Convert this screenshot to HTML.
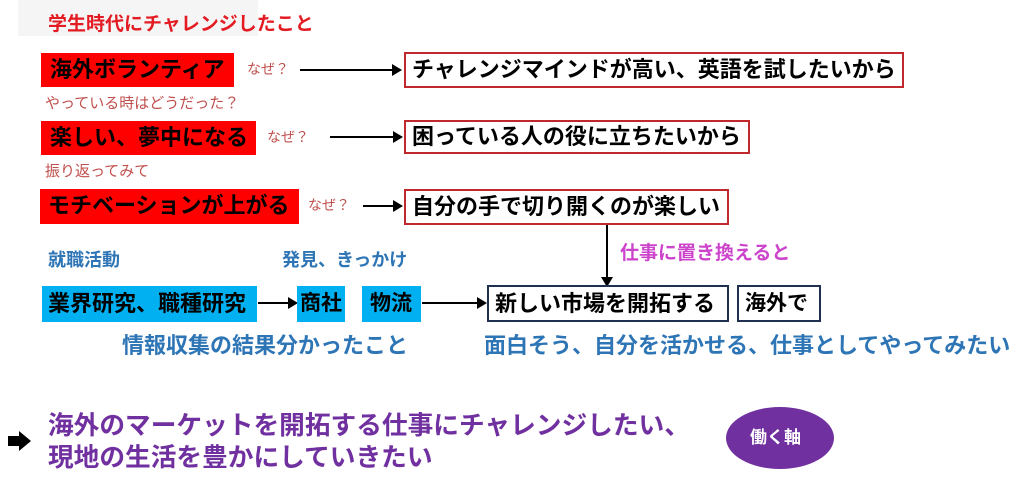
<!DOCTYPE html>
<html><head><meta charset="utf-8"><style>
body{margin:0;width:1024px;height:482px;background:#fff;position:relative;overflow:hidden;font-family:"Liberation Sans","Noto Sans CJK JP",sans-serif;}
.a{position:absolute;white-space:nowrap;line-height:1;font-weight:bold;}
.b{position:absolute;box-sizing:border-box;}
.r{background:#f00;}
.rb{border:2px solid #c0282d;background:#fff;}
.cy{background:#00b0f0;}
.nb{border:2px solid #1f3050;background:#fff;}
.q{font-weight:normal;color:#c0504d;font-size:14px;}
.h{position:absolute;height:2px;background:#000;}
.h:after{content:"";position:absolute;right:-2px;top:-5px;border-left:10px solid #000;border-top:6px solid transparent;border-bottom:6px solid transparent;}
</style></head><body>
<div class="b" style="left:18px;top:0;width:240px;height:36px;background:#f5f5f5"></div>
<div class="a" style="left:48px;top:15px;font-size:19px;color:#e31b23">学生時代にチャレンジしたこと</div>

<div class="b r" style="left:41px;top:53px;width:193px;height:34px"></div>
<div class="a" style="left:50px;top:59px;font-size:22px">海外ボランティア</div>
<div class="a q" style="left:247px;top:62px">なぜ？</div>
<div class="h" style="left:300px;top:69px;width:100px"></div>
<div class="b rb" style="left:404px;top:52px;width:500px;height:36px"></div>
<div class="a" style="left:412px;top:59px;font-size:22px">チャレンジマインドが高い、英語を試したいから</div>

<div class="a q" style="left:45px;top:96px;font-size:15px">やっている時はどうだった？</div>

<div class="b r" style="left:41px;top:121px;width:215px;height:34px"></div>
<div class="a" style="left:50px;top:127px;font-size:22px">楽しい、夢中になる</div>
<div class="a q" style="left:267px;top:130px">なぜ？</div>
<div class="h" style="left:330px;top:136px;width:71px"></div>
<div class="b rb" style="left:404px;top:120px;width:346px;height:34px"></div>
<div class="a" style="left:412px;top:126px;font-size:22px">困っている人の役に立ちたいから</div>

<div class="a q" style="left:45px;top:164px;font-size:15px">振り返ってみて</div>

<div class="b r" style="left:40px;top:189px;width:259px;height:35px"></div>
<div class="a" style="left:48px;top:195px;font-size:22px">モチベーションが上がる</div>
<div class="a q" style="left:308px;top:198px">なぜ？</div>
<div class="h" style="left:363px;top:205px;width:38px"></div>
<div class="b rb" style="left:404px;top:189px;width:325px;height:36px"></div>
<div class="a" style="left:412px;top:196px;font-size:22px">自分の手で切り開くのが楽しい</div>

<div class="b" style="left:606px;top:225px;width:2px;height:58px;background:#000"></div>
<div class="b" style="left:601px;top:277px;border-top:10px solid #000;border-left:6px solid transparent;border-right:6px solid transparent"></div>
<div class="a" style="left:620px;top:244px;font-size:19px;color:#cc44cc">仕事に置き換えると</div>

<div class="a" style="left:48px;top:251px;font-size:18px;color:#2e75b6">就職活動</div>
<div class="a" style="left:282px;top:251px;font-size:18px;color:#2e75b6">発見、きっかけ</div>

<div class="b cy" style="left:42px;top:286px;width:215px;height:36px"></div>
<div class="a" style="left:48px;top:293px;font-size:22px">業界研究、職種研究</div>
<div class="h" style="left:258px;top:302px;width:38px"></div>
<div class="b cy" style="left:297px;top:286px;width:48px;height:36px"></div>
<div class="a" style="left:300px;top:293px;font-size:21px">商社</div>
<div class="b cy" style="left:362px;top:286px;width:59px;height:36px"></div>
<div class="a" style="left:370px;top:293px;font-size:21px">物流</div>
<div class="h" style="left:422px;top:302px;width:63px"></div>
<div class="b nb" style="left:487px;top:285px;width:242px;height:37px"></div>
<div class="a" style="left:495px;top:293px;font-size:22px">新しい市場を開拓する</div>
<div class="b nb" style="left:737px;top:285px;width:84px;height:37px"></div>
<div class="a" style="left:745px;top:293px;font-size:21px">海外で</div>

<div class="a" style="left:122px;top:335px;font-size:22px;color:#2e75b6">情報収集の結果分かったこと</div>
<div class="a" style="left:484px;top:335px;font-size:22px;color:#2e75b6">面白そう、自分を活かせる、仕事としてやってみたい</div>

<div class="b" style="left:8px;top:436px;width:12px;height:10px;background:#000"></div>
<div class="b" style="left:19px;top:431px;border-left:12px solid #000;border-top:10px solid transparent;border-bottom:10px solid transparent"></div>
<div class="a" style="left:48px;top:414px;font-size:25.7px;color:#7030a0">海外のマーケットを開拓する仕事にチャレンジしたい、</div>
<div class="a" style="left:48px;top:446px;font-size:25.7px;color:#7030a0">現地の生活を豊かにしていきたい</div>

<div class="b" style="left:726px;top:407px;width:108px;height:62px;border-radius:50%;background:#7030a0"></div>
<div class="a" style="left:750px;top:429px;font-size:17px;color:#fff">働く軸</div>
</body></html>
